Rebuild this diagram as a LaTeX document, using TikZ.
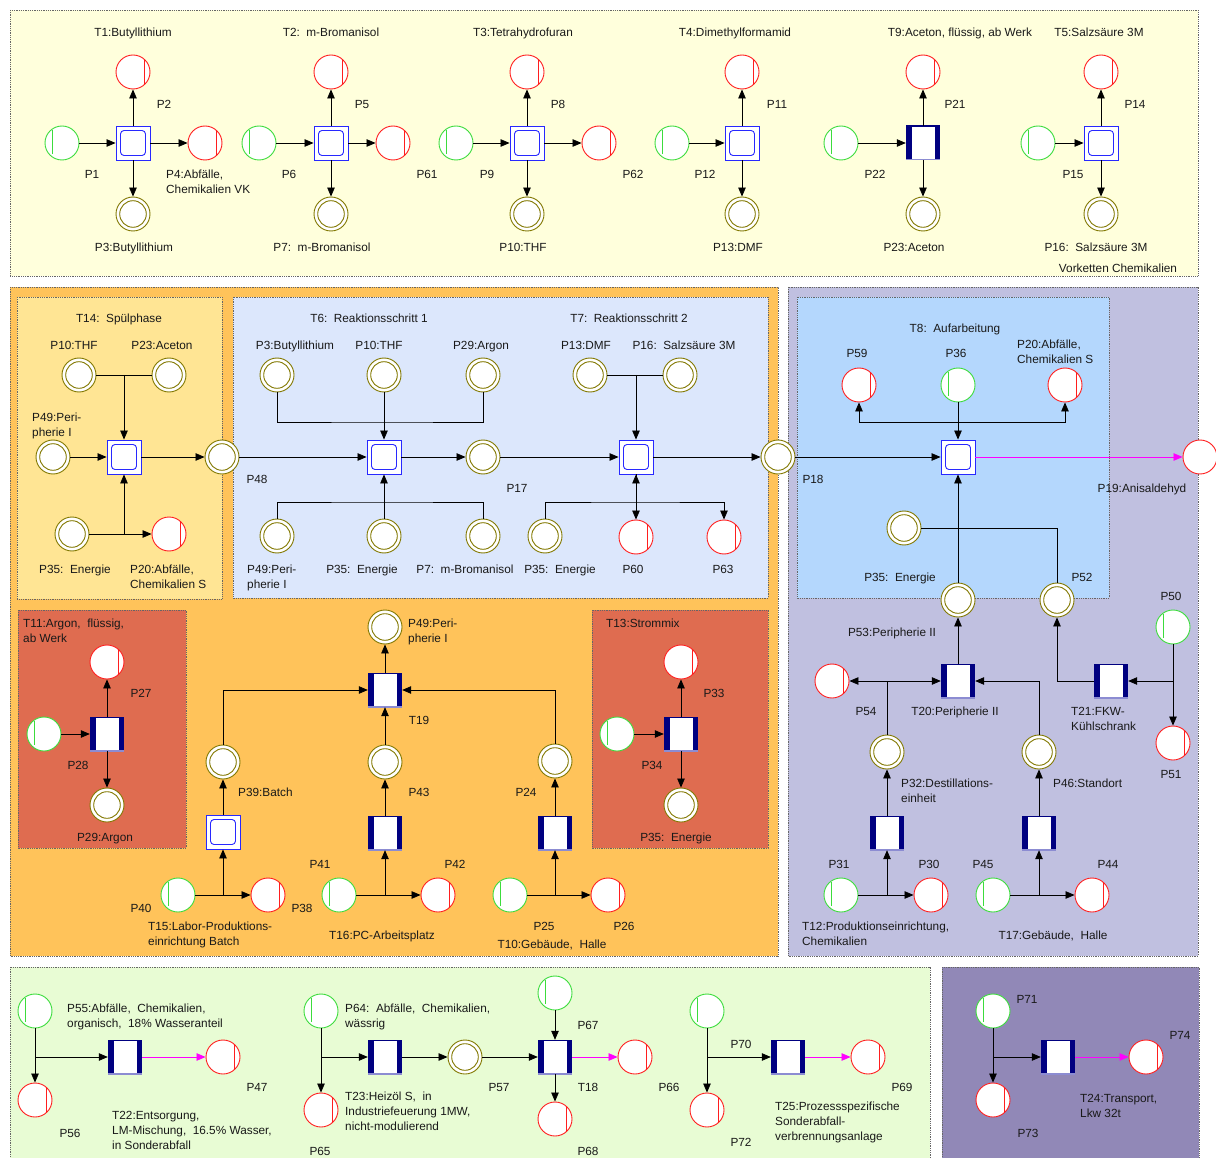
\documentclass[tikz,border=0pt]{standalone}
\usepackage{fontspec}
\setmainfont{Liberation Sans}
\usetikzlibrary{arrows.meta}
\definecolor{pgreen}{RGB}{60,220,60}
\definecolor{pred}{RGB}{255,30,30}
\definecolor{polive}{RGB}{130,120,0}
\definecolor{tblue}{RGB}{40,40,255}
\definecolor{tnavy}{RGB}{0,0,128}
\definecolor{tlav}{RGB}{140,140,210}
\definecolor{amag}{RGB}{255,0,255}
\definecolor{bgyellow}{RGB}{255,255,220}
\definecolor{bgorange}{RGB}{255,195,90}
\definecolor{bgspuel}{RGB}{255,229,148}
\definecolor{bgreak}{RGB}{220,231,252}
\definecolor{bgpurple}{RGB}{192,192,224}
\definecolor{bgauf}{RGB}{180,215,253}
\definecolor{bgbrick}{RGB}{223,108,80}
\definecolor{bggreen}{RGB}{232,252,212}
\definecolor{bgviolet}{RGB}{145,136,183}
\definecolor{txt}{RGB}{25,25,25}
\newcommand{\lbfont}{\fontsize{11.8}{15}\selectfont}
\begin{document}
\begin{tikzpicture}[x=1pt,y=-1pt,
  every node/.style={font=\lbfont, text=txt},
  panel/.style={draw=black!60, densely dotted, line width=0.8pt},
  plc/.style={circle, minimum size=34pt, inner sep=0pt, fill=white, line width=0.9pt},
  pin/.style={plc, draw=pgreen, path picture={\draw[pgreen, line width=0.9pt]
      ([shift={(-10pt,13pt)}]path picture bounding box.center) --
      ([shift={(-10pt,-11pt)}]path picture bounding box.center);}},
  pout/.style={plc, draw=pred, path picture={\draw[pred, line width=0.9pt]
      ([shift={(11pt,12pt)}]path picture bounding box.center) --
      ([shift={(11pt,-12pt)}]path picture bounding box.center);}},
  pend/.style={plc, draw=pred},
  pmid/.style={plc, draw=polive, path picture={\draw[polive, line width=0.9pt]
      (path picture bounding box.center) circle[radius=13.3pt];}},
  tsq/.style={rectangle, minimum size=34pt, inner sep=0pt, fill=white, draw=tblue, line width=0.9pt,
    path picture={\draw[tblue, line width=0.9pt, rounded corners=3.5pt]
      ([shift={(4.5pt,4.5pt)}]path picture bounding box.south west) rectangle
      ([shift={(-4.5pt,-4.5pt)}]path picture bounding box.north east);}},
  tbar/.style={rectangle, minimum size=34pt, inner sep=0pt, fill=white,
    path picture={
      \fill[tnavy] (path picture bounding box.south west) rectangle ([xshift=5.5pt]path picture bounding box.north west);
      \fill[tnavy] (path picture bounding box.south east) rectangle ([xshift=-5.5pt]path picture bounding box.north east);
      \draw[tnavy, line width=1.4pt] (path picture bounding box.north west) -- (path picture bounding box.north east);
      \draw[tlav, line width=1.4pt] (path picture bounding box.south west) -- (path picture bounding box.south east);}},
  ln/.style={draw=black, line width=0.8pt},
  arr/.style={ln, -{Triangle[length=9pt,width=7.5pt]}},
  dbl/.style={ln, {Triangle[length=9pt,width=7.5pt]}-{Triangle[length=9pt,width=7.5pt]}},
  magarr/.style={draw=amag, line width=0.8pt, -{Triangle[length=9pt,width=7.5pt]}},
  lb/.style={inner sep=0pt, text height=8.5pt, text depth=0pt},
  lbw/.style={lb, anchor=west},
  lbm/.style={inner sep=0pt, align=left, anchor=north west}
]
\useasboundingbox (0,0) rectangle (1216,1158);
\fill[white] (0,0) rectangle (1216,1158);

% ---------- panels ----------
\path[panel, fill=bgyellow] (10,10) rectangle (1198,276);
\path[panel, fill=bgorange] (10,287) rectangle (778,956);
\path[panel, fill=bgpurple] (788,287) rectangle (1198,956);
\path[panel, fill=bgspuel] (17,297) rectangle (222,599);
\path[panel, fill=bgreak] (233,297) rectangle (768,598);
\path[panel, fill=bgauf] (797,297) rectangle (1109,598);
\path[panel, fill=bgbrick] (18,610) rectangle (186,848);
\path[panel, fill=bgbrick] (592,610) rectangle (768,848);
\path[panel, fill=bggreen] (10,967) rectangle (930,1165);
\path[panel, fill=bgviolet] (942,967) rectangle (1199,1165);

% ---------- upstream chains (chemicals) ----------
\node[pin] (p1) at (62,143) {};
\node[tsq] (t1) at (133,143) {};
\node[pout] (p2) at (133,72) {};
\node[pout] (p4) at (205,143) {};
\node[pmid] (p3) at (133,214) {};
\node[pin] (p6) at (259,143) {};
\node[tsq] (t2) at (331,143) {};
\node[pout] (p5) at (331,72) {};
\node[pout] (p61) at (393,143) {};
\node[pmid] (p7) at (331,214) {};
\node[pin] (p9) at (456,143) {};
\node[tsq] (t3) at (527,143) {};
\node[pout] (p8) at (527,72) {};
\node[pout] (p62) at (599,143) {};
\node[pmid] (p10) at (527,214) {};
\node[pin] (p12) at (672,143) {};
\node[tsq] (t4) at (742,143) {};
\node[pout] (p11) at (742,72) {};
\node[pmid] (p13) at (742,214) {};
\node[pin] (p22) at (841,143) {};
\node[tbar] (t9) at (923,143) {};
\node[pout] (p21) at (923,72) {};
\node[pmid] (p23) at (923,214) {};
\node[pin] (p15) at (1038,143) {};
\node[tsq] (t5) at (1101,143) {};
\node[pout] (p14) at (1101,72) {};
\node[pmid] (p16) at (1101,214) {};

\foreach \a/\b in {p1/t1,t1/p2,t1/p4,t1/p3,p6/t2,t2/p5,t2/p61,t2/p7,p9/t3,t3/p8,t3/p62,t3/p10,
  p12/t4,t4/p11,t4/p13,p22/t9,t9/p21,t9/p23,p15/t5,t5/p14,t5/p16}
  \draw[arr] (\a) -- (\b);

\node[lb] (lt1) at (133,32) {T1:Butyllithium};
\node[lb] (lp2) at (164,104) {P2};
\node[lb] (lp1) at (92,174) {P1};
\node[lbm] (lp4) at (166,169.7) {P4:Abfälle,\\Chemikalien VK};
\node[lb] (lp3) at (134,247) {P3:Butyllithium};
\node[lb] (lt2) at (331,32) {T2:\ \ m-Bromanisol};
\node[lb] (lp5) at (362,104) {P5};
\node[lb] (lp6) at (289,174) {P6};
\node[lb] (lp61) at (427,174) {P61};
\node[lb] (lp7) at (322,247) {P7:\ \ m-Bromanisol};
\node[lb] (lt3) at (523,32) {T3:Tetrahydrofuran};
\node[lb] (lp8) at (558,104) {P8};
\node[lb] (lp9) at (487,174) {P9};
\node[lb] (lp62) at (633,174) {P62};
\node[lb] (lp10) at (523,247) {P10:THF};
\node[lb] (lt4) at (735,32) {T4:Dimethylformamid};
\node[lb] (lp11) at (777,104) {P11};
\node[lb] (lp12) at (705,174) {P12};
\node[lb] (lp13) at (738,247) {P13:DMF};
\node[lb] (lt9) at (960,32) {T9:Aceton,\ flüssig,\ ab Werk};
\node[lb] (lt5) at (1099,32) {T5:Salzsäure 3M};
\node[lb] (lp21) at (955,104) {P21};
\node[lb] (lp14) at (1135,104) {P14};
\node[lb] (lp22) at (875,174) {P22};
\node[lb] (lp15) at (1073,174) {P15};
\node[lb] (lp23) at (914,247) {P23:Aceton};
\node[lb] (lp16) at (1096,247) {P16:\ \ Salzsäure 3M};
\node[lb] (lvk) at (1118,268) {Vorketten Chemikalien};

% ---------- rinsing phase ----------
\node[pmid] (p10s) at (79,375) {};
\node[pmid] (p23s) at (169,375) {};
\node[tsq] (t14) at (124,457) {};
\node[pmid] (p49s) at (53,457) {};
\node[pmid] (p48) at (222,457) {};
\node[pmid] (p35s) at (72,534) {};
\node[pout] (p20s) at (169,534) {};
\draw[ln] (p10s) -- (p23s);
\draw[arr] (t14 |- p10s) -- (t14);
\draw[arr] (p49s) -- (t14);
\draw[arr] (t14) -- (p48);
\draw[arr] (p35s) -| (t14);
\draw[arr] (p35s) -- (p20s);
\node[lb] (lt14) at (119,318) {T14:\ \ Spülphase};
\node[lb] (lp10s) at (74,345) {P10:THF};
\node[lb] (lp23s) at (162,345) {P23:Aceton};
\node[lbm] (lp49s) at (32,412.5) {P49:Peri-\\pherie I};
\node[lb] (lp35s) at (75,569) {P35:\ \ Energie};
\node[lbm] (lp20s) at (130,564.7) {P20:Abfälle,\\Chemikalien S};
\node[lb] (lp48) at (257,479) {P48};

% ---------- reaction steps ----------
\node[tsq] (t6) at (384,457) {};
\node[pmid] (p3r) at (277,375) {};
\node[pmid] (p10r) at (384,375) {};
\node[pmid] (p29r) at (483,375) {};
\node[pmid] (p49r) at (277,536) {};
\node[pmid] (p35r) at (384,536) {};
\node[pmid] (p7r) at (483,536) {};
\node[pmid] (p17) at (483,457) {};
\node[tsq] (t7) at (636,457) {};
\node[pmid] (p13r) at (590,375) {};
\node[pmid] (p16r) at (680,375) {};
\node[pmid] (p18) at (778,457) {};
\node[pmid] (p35q) at (545,536) {};
\node[pout] (p60) at (636,537) {};
\node[pout] (p63) at (724,537) {};
\coordinate (j1) at (384,422);
\coordinate (j2) at (384,502);
\coordinate (j3) at (636,502);
\draw[ln] (p3r) |- (j1) -| (p29r);
\draw[arr] (p10r) -- (t6);
\draw[ln] (p49r) |- (j2) -| (p7r);
\draw[arr] (p35r) -- (t6);
\draw[arr] (p48) -- (t6);
\draw[arr] (t6) -- (p17);
\draw[arr] (p17) -- (t7);
\draw[arr] (t7) -- (p18);
\draw[ln] (p13r) -- (p16r);
\draw[arr] (t7 |- p13r) -- (t7);
\draw[arr] (p35q) |- (j3) -| (p63);
\draw[arr] (j3) -- (t7);
\draw[arr] (t7) -- (p60);
\node[lb] (lt6) at (369,318) {T6:\ \ Reaktionsschritt 1};
\node[lb] (lt7) at (629,318) {T7:\ \ Reaktionsschritt 2};
\node[lb] (lp3r) at (295,345) {P3:Butyllithium};
\node[lb] (lp10r) at (379,345) {P10:THF};
\node[lb] (lp29r) at (481,345) {P29:Argon};
\node[lb] (lp13r) at (586,345) {P13:DMF};
\node[lb] (lp16r) at (684,345) {P16:\ \ Salzsäure 3M};
\node[lb] (lp17) at (517,488) {P17};
\node[lbm] (lp49r) at (247,564.7) {P49:Peri-\\pherie I};
\node[lb] (lp35r) at (362,569) {P35:\ \ Energie};
\node[lb] (lp7r) at (465,569) {P7:\ \ m-Bromanisol};
\node[lb] (lp35q) at (560,569) {P35:\ \ Energie};
\node[lb] (lp60) at (633,569) {P60};
\node[lb] (lp63) at (723,569) {P63};

% ---------- work-up ----------
\node[tsq] (t8) at (958,457) {};
\node[pout] (p59) at (859,385) {};
\node[pin] (p36) at (958,385) {};
\node[pout] (p20a) at (1065,385) {};
\node[pmid] (p35a) at (904,528) {};
\node[pmid] (p53) at (958,600) {};
\node[pmid] (p52) at (1057,600) {};
\node[pend] (p19) at (1200,457) {};
\coordinate (j4) at (958,422);
\draw[arr] (j4) -| (p59);
\draw[arr] (j4) -| (p20a);
\draw[arr] (p36) -- (t8);
\draw[arr] (p18) -- (t8);
\draw[magarr] (t8) -- (p19);
\draw[arr] (p53) -- (t8);
\draw[ln] (p35a) -| (p52);
\node[lb] (lt8) at (955,328) {T8:\ \ Aufarbeitung};
\node[lb] (lp59) at (857,353) {P59};
\node[lb] (lp36) at (956,353) {P36};
\node[lbm] (lp20a) at (1017,339.7) {P20:Abfälle,\\Chemikalien S};
\node[lb] (lp18) at (813,479) {P18};
\node[lb] (lp19) at (1142,488) {P19:Anisaldehyd};
\node[lb] (lp35a) at (900,577) {P35:\ \ Energie};
\node[lb] (lp52) at (1082,577) {P52};

% ---------- periphery II ----------
\node[tbar] (t20) at (958,681) {};
\node[pout] (p54) at (832,681) {};
\node[pmid] (p32) at (887,752) {};
\node[pmid] (p46) at (1039,752) {};
\node[tbar] (t21) at (1111,681) {};
\node[pin] (p50) at (1173,627) {};
\node[pout] (p51) at (1173,743) {};
\node[tbar] (t12) at (887,833) {};
\node[pin] (p31) at (841,895) {};
\node[pout] (p30) at (931,895) {};
\node[tbar] (t17) at (1039,833) {};
\node[pin] (p45) at (993,895) {};
\node[pout] (p44) at (1092,895) {};
\draw[arr] (t20) -- (p53);
\draw[arr] (p32) |- (t20);
\draw[arr] (p32 |- t20) -- (p54);
\draw[arr] (p46) |- (t20);
\draw[arr] (t21) -| (p52);
\draw[arr] (p50) |- (t21);
\draw[arr] (p50) -- (p51);
\draw[arr] (t12) -- (p32);
\draw[arr] (p31) -| (t12);
\draw[arr] (p31) -- (p30);
\draw[arr] (t17) -- (p46);
\draw[arr] (p45) -| (t17);
\draw[arr] (p45) -- (p44);
\node[lb] (lp50) at (1171,596) {P50};
\node[lb] (lp53) at (892,632) {P53:Peripherie II};
\node[lb] (lp54) at (866,711) {P54};
\node[lb] (lt20) at (955,711) {T20:Peripherie II};
\node[lbm] (lt21) at (1071,706.7) {T21:FKW-\\Kühlschrank};
\node[lb] (lp51) at (1171,774) {P51};
\node[lbm] (lp32) at (901,778.7) {P32:Destillations-\\einheit};
\node[lbw] (lp46) at (1053,783) {P46:Standort};
\node[lb] (lp31) at (839,864) {P31};
\node[lb] (lp30) at (929,864) {P30};
\node[lb] (lp45) at (983,864) {P45};
\node[lb] (lp44) at (1108,864) {P44};
\node[lbm] (lt12) at (802,921.7) {T12:Produktionseinrichtung,\\Chemikalien};
\node[lb] (lt17) at (1053,935) {T17:Gebäude,\ \ Halle};

% ---------- argon supply ----------
\node[pout] (p27) at (107,662) {};
\node[tbar] (t11) at (107,734) {};
\node[pin] (p28) at (44,734) {};
\node[pmid] (p29a) at (107,805) {};
\draw[arr] (p28) -- (t11);
\draw[arr] (t11) -- (p27);
\draw[arr] (t11) -- (p29a);
\node[lbm] (lt11) at (23,618.4) {T11:Argon,\ \ flüssig,\\ab Werk};
\node[lb] (lp27) at (141,693) {P27};
\node[lb] (lp28) at (78,765) {P28};
\node[lb] (lp29a) at (105,837) {P29:Argon};

% ---------- periphery I ----------
\node[tbar] (t19) at (385,690) {};
\node[pmid] (p49a) at (385,627) {};
\node[pmid] (p43) at (385,762) {};
\node[tbar] (t16) at (385,833) {};
\node[pin] (p41) at (339,895) {};
\node[pout] (p42) at (438,895) {};
\node[pmid] (p39) at (223,762) {};
\node[tsq] (t15) at (223,832) {};
\node[pin] (p40) at (178,895) {};
\node[pout] (p38) at (268,895) {};
\node[pmid] (p24) at (555,761) {};
\node[tbar] (t10) at (555,833) {};
\node[pin] (p25) at (510,895) {};
\node[pout] (p26) at (608,895) {};
\draw[arr] (t15) -- (p39);
\draw[arr] (p39) |- (t19);
\draw[arr] (p43) -- (t19);
\draw[arr] (t19) -- (p49a);
\draw[arr] (p24) |- (t19);
\draw[arr] (t16) -- (p43);
\draw[arr] (p41) -| (t16);
\draw[arr] (p41) -- (p42);
\draw[arr] (p40) -| (t15);
\draw[arr] (p40) -- (p38);
\draw[arr] (t10) -- (p24);
\draw[arr] (p25) -| (t10);
\draw[arr] (p25) -- (p26);
\node[lbm] (lp49a) at (408,618.7) {P49:Peri-\\pherie I};
\node[lb] (lt19) at (419,720) {T19};
\node[lb] (lp43) at (419,792) {P43};
\node[lbw] (lp39) at (238,792) {P39:Batch};
\node[lb] (lp41) at (320,864) {P41};
\node[lb] (lp42) at (455,864) {P42};
\node[lb] (lp40) at (141,908) {P40};
\node[lb] (lp38) at (302,908) {P38};
\node[lbm] (lt15) at (148,921.7) {T15:Labor-Produktions-\\einrichtung Batch};
\node[lb] (lt16) at (382,935) {T16:PC-Arbeitsplatz};
\node[lb] (lp24) at (526,792) {P24};
\node[lb] (lp25) at (544,926) {P25};
\node[lb] (lp26) at (624,926) {P26};
\node[lb] (lt10) at (552,944) {T10:Gebäude,\ \ Halle};

% ---------- electricity mix ----------
\node[pout] (p33) at (681,662) {};
\node[tbar] (t13) at (681,734) {};
\node[pin] (p34) at (617,734) {};
\node[pmid] (p35e) at (681,805) {};
\draw[arr] (p34) -- (t13);
\draw[arr] (t13) -- (p33);
\draw[arr] (t13) -- (p35e);
\node[lbw] (lt13) at (606,623) {T13:Strommix};
\node[lb] (lp33) at (714,693) {P33};
\node[lb] (lp34) at (652,765) {P34};
\node[lb] (lp35e) at (676,837) {P35:\ \ Energie};

% ---------- disposal ----------
\node[pin] (p55) at (35,1011) {};
\node[pout] (p56) at (35,1100) {};
\node[tbar] (t22) at (125,1057) {};
\node[pout] (p47) at (223,1057) {};
\draw[arr] (p55) -- (p56);
\draw[arr] (p55 |- t22) -- (t22);
\draw[magarr] (t22) -- (p47);
\node[lbm] (lp55) at (67,1003.7) {P55:Abfälle,\ \ Chemikalien,\\organisch,\ \ 18\% Wasseranteil};
\node[lb] (lp47) at (257,1087) {P47};
\node[lb] (lp56) at (70,1133) {P56};
\node[lbm] (lt22) at (112,1110.7) {T22:Entsorgung,\\LM-Mischung,\ \ 16.5\% Wasser,\\in Sonderabfall};

\node[pin] (p64) at (321,1011) {};
\node[pout] (p65) at (321,1110) {};
\node[tbar] (t23) at (385,1057) {};
\node[pmid] (p57) at (465,1057) {};
\node[tbar] (t18) at (555,1057) {};
\node[pin] (p67) at (555,993) {};
\node[pout] (p68) at (555,1119) {};
\node[pout] (p66) at (635,1057) {};
\draw[arr] (p64) -- (p65);
\draw[arr] (p64 |- t23) -- (t23);
\draw[arr] (t23) -- (p57);
\draw[arr] (p57) -- (t18);
\draw[arr] (p67) -- (t18);
\draw[arr] (t18) -- (p68);
\draw[magarr] (t18) -- (p66);
\node[lbm] (lp64) at (345,1003.7) {P64:\ \ Abfälle,\ \ Chemikalien,\\wässrig};
\node[lbm] (lt23) at (345,1091.7) {T23:Heizöl S,\ \ in\\Industriefeuerung 1MW,\\nicht-modulierend};
\node[lb] (lp65) at (320,1151) {P65};
\node[lb] (lp67) at (588,1025) {P67};
\node[lb] (lp57) at (499,1087) {P57};
\node[lb] (lt18) at (588,1087) {T18};
\node[lb] (lp66) at (669,1087) {P66};
\node[lb] (lp68) at (588,1151) {P68};

\node[pin] (p70) at (707,1011) {};
\node[pout] (p72) at (707,1110) {};
\node[tbar] (t25) at (788,1057) {};
\node[pout] (p69) at (868,1057) {};
\draw[arr] (p70) -- (p72);
\draw[arr] (p70 |- t25) -- (t25);
\draw[magarr] (t25) -- (p69);
\node[lb] (lp70) at (741,1044) {P70};
\node[lb] (lp72) at (741,1142) {P72};
\node[lb] (lp69) at (902,1087) {P69};
\node[lbm] (lt25) at (775,1101.7) {T25:Prozessspezifische\\Sonderabfall-\\verbrennungsanlage};

% ---------- transport ----------
\node[pin] (p71) at (993,1011) {};
\node[pout] (p73) at (993,1100) {};
\node[tbar] (t24) at (1058,1057) {};
\node[pout] (p74) at (1146,1057) {};
\draw[arr] (p71) -- (p73);
\draw[arr] (p71 |- t24) -- (t24);
\draw[magarr] (t24) -- (p74);
\node[lb] (lp71) at (1027,999) {P71};
\node[lb] (lp74) at (1180,1035) {P74};
\node[lb] (lp73) at (1028,1133) {P73};
\node[lbm] (lt24) at (1080,1093.7) {T24:Transport,\\Lkw 32t};
\end{tikzpicture}
\end{document}
